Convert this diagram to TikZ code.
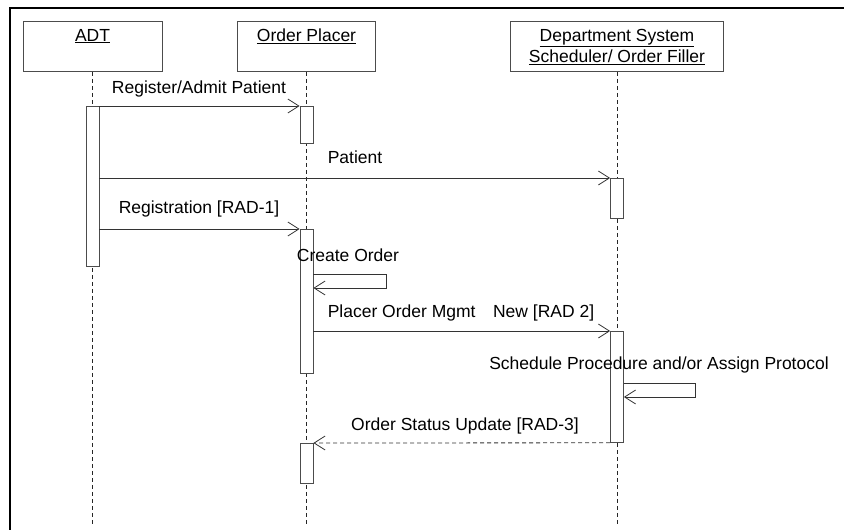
\documentclass[tikz,border=0pt]{standalone}
\usepackage{fontspec}
\setmainfont{Liberation Sans}
\usetikzlibrary{positioning,arrows.meta}

\begin{document}
\begin{tikzpicture}[
  x=1pt, y=-1pt,
  font=\fontsize{17.5}{21}\selectfont,
  obj/.style={draw=black!70, line width=0.8pt, minimum height=50pt, inner sep=0pt, anchor=north},
  ttl/.style={inner sep=0pt, align=center, anchor=north},
  act/.style={draw=black!70, fill=white, line width=0.8pt, minimum width=13pt, inner sep=0pt, anchor=north},
  life/.style={black!85, line width=0.9pt, dash pattern=on 4pt off 3pt},
  msg/.style={-{Straight Barb[length=11pt, width=14pt]}, black!80, line width=0.8pt},
  ret/.style={msg, dash pattern=on 4pt off 3pt},
  lbl/.style={inner sep=0pt, anchor=base}
]
\useasboundingbox (0,0) rectangle (844,530);
\draw[line width=1.5pt] (844,8) -- (10,8) -- (10,530);
\node[obj, minimum width=139pt] (adt) at (92.5,21) {};
\node[obj, minimum width=138pt] (op) at (306.5,21) {};
\node[obj, minimum width=213pt] (ds) at (617,21) {};
\node[ttl, below=8pt of adt.north] (adtT) {\underline{ADT}};
\node[ttl, below=8pt of op.north] (opT) {\underline{Order Placer}};
\node[ttl, below=8pt of ds.north] (dsT) {\underline{Department System}\\\underline{Scheduler/ Order Filler}};
\coordinate (end) at (0,526);
\foreach \o in {adt,op,ds}
  \draw[life] (\o.south) -- (\o.south |- end);
\node[act, minimum height=160pt] (adtA) at (92.5,106) {};
\node[act, minimum height=37pt] (opA) at (306.5,106) {};
\node[act, minimum height=144pt] (opB) at (306.5,229) {};
\node[act, minimum height=40pt] (opC) at (306.5,443) {};
\node[act, minimum height=40pt] (dsA) at (617,178) {};
\node[act, minimum height=111pt] (dsB) at (617,331) {};
\foreach \a/\b in {adtA.north east/opA.north west, adtA.east |- dsA.north/dsA.north west,
                   adtA.east |- opB.north/opB.north west, opB.east |- dsB.north/dsB.north west}
  \draw[msg] (\a) -- (\b);
\draw[msg] ([yshift=-45pt]opB.north east) -- ++(73,0) -- ++(0,14) -- ++(-73,0);
\draw[msg] ([yshift=-52pt]dsB.north east) -- ++(71.5,0) -- ++(0,14) -- ++(-71.5,0);
\draw[ret] (dsB.south west) -- (opC.north east);
\node[lbl] (l1) at (199,93) {Register/Admit Patient};
\node[lbl] (l2) at (355,163) {Patient};
\node[lbl] (l3) at (199,213) {Registration [RAD-1]};
\node[lbl] (l4) at (348,261) {Create Order};
\node[lbl] (l5) at (461,317) {Placer Order Mgmt\quad New [RAD 2]};
\node[lbl] (l6) at (659,369) {Schedule Procedure and/or Assign Protocol};
\node[lbl] (l7) at (465,430) {Order Status Update [RAD-3]};
\end{tikzpicture}
\end{document}
